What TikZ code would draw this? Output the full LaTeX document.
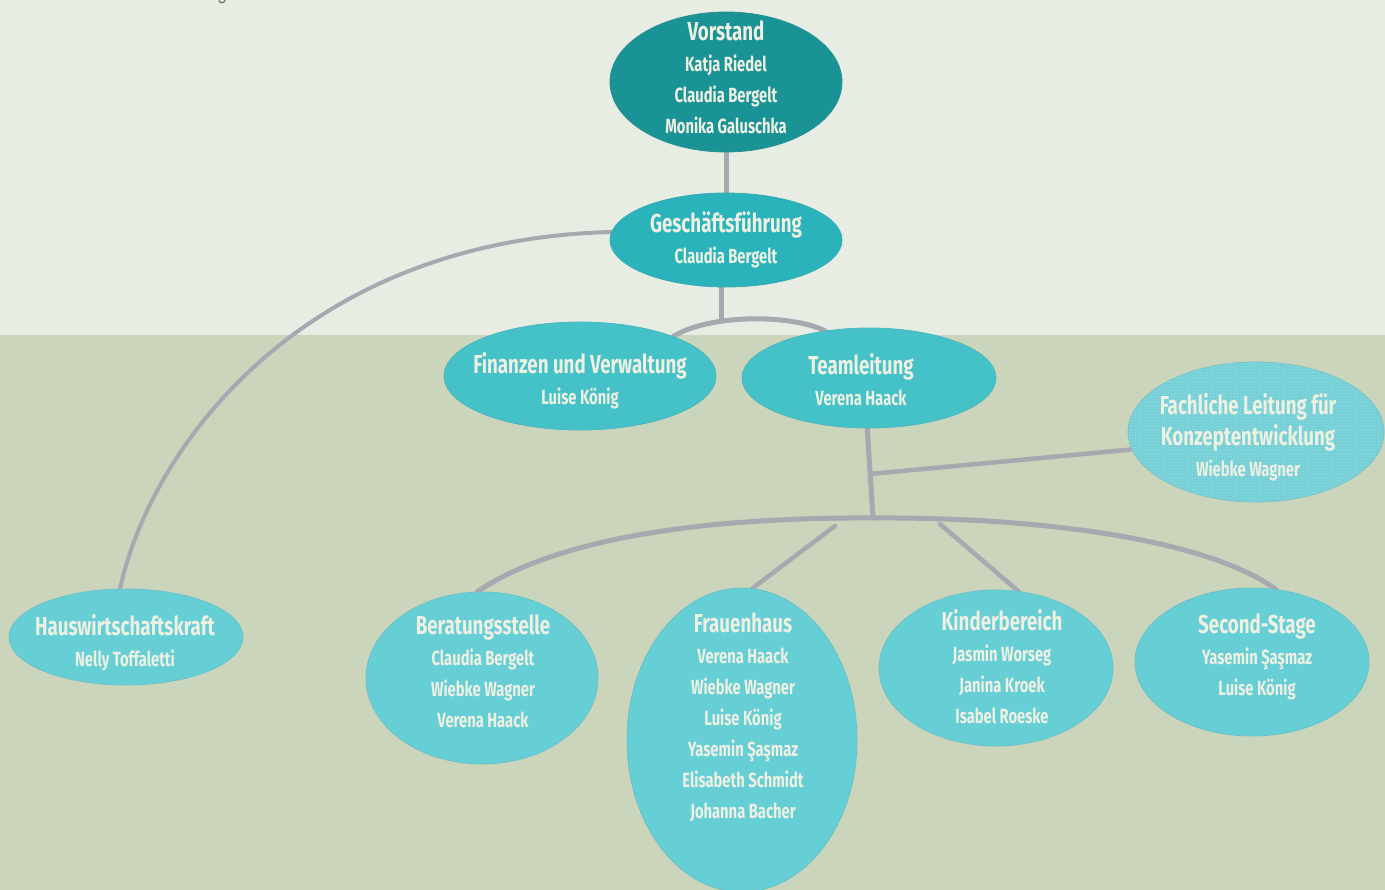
\documentclass[tikz,border=0pt]{standalone}
\usepackage{fontspec}
\setmainfont{Fira Sans}[FakeStretch=0.72]
\usetikzlibrary{shapes.geometric,patterns}
\pgfdeclarelayer{bg}
\pgfsetlayers{bg,main}
\definecolor{bgtop}{HTML}{E8EDE3}
\definecolor{bgbot}{HTML}{CAD5BB}
\definecolor{conn}{HTML}{A8A8B0}
\definecolor{vorc}{HTML}{1A9396}
\definecolor{gfc}{HTML}{2AB3BA}
\definecolor{midc}{HTML}{45C1C8}
\definecolor{lowc}{HTML}{66CED5}
\definecolor{fachc}{HTML}{72CFD6}
\definecolor{txtc}{HTML}{EEF0E2}
\newcommand{\ttl}{\fontsize{26}{31}\selectfont}
\newcommand{\nm}{\fontsize{20.5}{31}\selectfont}
\tikzset{
  blob/.style={ellipse, inner sep=0pt, fill=#1, draw=#1!85!gray, line width=0.8pt},
  lbl/.style={text=txtc, align=center, inner sep=0pt, font=\bfseries\nm},
  link/.style={draw=conn, line width=5pt, line cap=round},
}
\begin{document}
\begin{tikzpicture}[x=1pt,y=-1pt]
\useasboundingbox (0,0) rectangle (1385,890);
\node[anchor=base, text=gray!90!black, font=\fontsize{20}{20}\selectfont] (frag) at (222,0) {g};

% ellipses
\node[blob=vorc, minimum width=232pt, minimum height=140pt] (vor) at (726,82) {};
\node[blob=gfc, minimum width=232pt, minimum height=94pt] (gf) at (726,240) {};
\node[blob=midc, minimum width=272pt, minimum height=108pt] (fin) at (580,376) {};
\node[blob=midc, minimum width=254pt, minimum height=100pt] (team) at (869,378) {};
\node[blob=fachc, minimum width=256pt, minimum height=140pt,
      postaction={pattern=crosshatch dots, pattern color=white, fill opacity=0.35}] (fach) at (1256,432) {};
\node[blob=lowc, minimum width=234pt, minimum height=96pt] (hw) at (126,637) {};
\node[blob=lowc, minimum width=232pt, minimum height=172pt] (ber) at (482,678) {};
\node[blob=lowc, minimum width=230pt, minimum height=304pt] (frau) at (742,740) {};
\node[blob=lowc, minimum width=234pt, minimum height=156pt] (kin) at (996,668) {};
\node[blob=lowc, minimum width=234pt, minimum height=148pt] (ss) at (1252,662) {};

% texts
\node[lbl] (vorT) at (726,77) {\ttl Vorstand\\Katja Riedel\\Claudia Bergelt\\Monika Galuschka};
\node[lbl] (gfT) at (726,240) {\ttl Geschäftsführung\\Claudia Bergelt};
\node[lbl] (finT) at (580,381) {\ttl Finanzen und Verwaltung\\Luise König};
\node[lbl] (teamT) at (861,380) {\ttl Teamleitung\\Verena Haack};
\node[lbl] (fachT) at (1248,437) {\ttl Fachliche Leitung für\\\ttl Konzeptentwicklung\\Wiebke Wagner};
\node[lbl] (hwT) at (125,643) {\ttl Hauswirtschaftskraft\\Nelly Toffaletti};
\node[lbl] (berT) at (483,671) {\ttl Beratungsstelle\\Claudia Bergelt\\Wiebke Wagner\\Verena Haack};
\node[lbl] (frauT) at (743,717) {\ttl Frauenhaus\\Verena Haack\\Wiebke Wagner\\Luise König\\Yasemin Şaşmaz\\Elisabeth Schmidt\\Johanna Bacher};
\node[lbl] (kinT) at (1002,667) {\ttl Kinderbereich\\Jasmin Worseg\\Janina Kroek\\Isabel Roeske};
\node[lbl] (ssT) at (1257,657) {\ttl Second-Stage\\Yasemin Şaşmaz\\Luise König};

% junction points
\coordinate (j1) at (721,321);
\coordinate (j2) at (873,518);
\coordinate (j3) at (870,474);
\coordinate (s1) at (835,526);
\coordinate (s2) at (940,524);

\begin{pgfonlayer}{bg}
\fill[bgtop] (0,0) rectangle (1385,335);
\fill[bgbot] (0,335) rectangle (1385,890);
\draw[link] (vor.south) -- (gf.north);
\draw[link] (gf.south -| j1) -- (j1);
\draw[link] (fin.23) .. controls (710,314) and (790,314) .. (team.133);
\draw[link, line width=4pt] (gf.176) .. controls (300,240) and (150,450) .. (hw.97);
\draw[link] (team.268) -- (j2);
\draw[link, line width=4.5pt] (j3) -- (fach.188);
\draw[link] (ber.93) .. controls (560,535) and (720,517) .. (j2) .. controls (1020,517) and (1200,535) .. (ss.72);
\draw[link, line width=4.5pt] (s1) -- (frau.86);
\draw[link, line width=4.5pt] (s2) -- (kin.74);
\end{pgfonlayer}
\end{tikzpicture}
\end{document}
